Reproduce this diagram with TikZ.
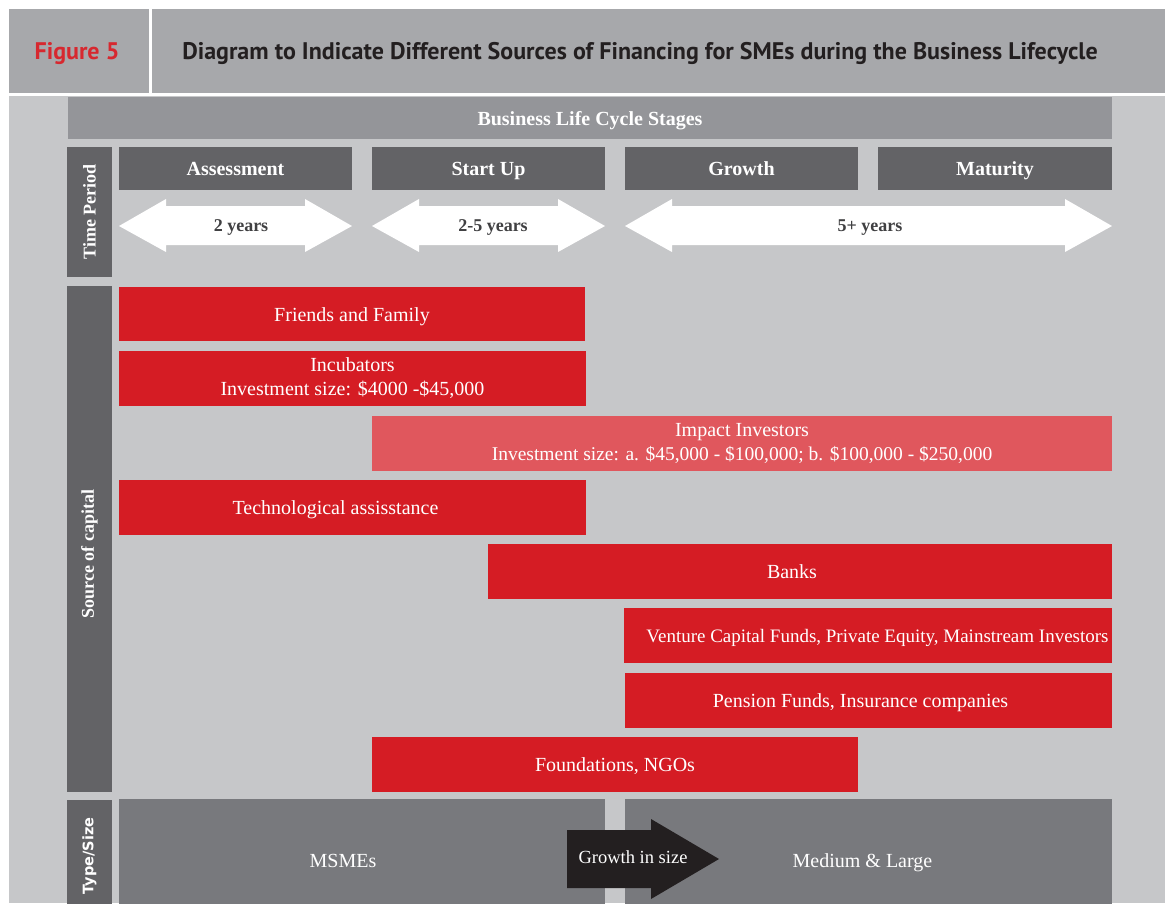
\documentclass[tikz,border=0pt]{standalone}
\usepackage{fontspec}
\setmainfont{Liberation Serif}
\newfontfamily\titlefont{PT Sans}
\newfontfamily\typefont{DejaVu Sans}
\usetikzlibrary{positioning}
\definecolor{hdrgray}{HTML}{A7A8AB}
\definecolor{lightgray}{HTML}{C6C7C9}
\definecolor{bargray}{HTML}{949599}
\definecolor{darkgray}{HTML}{636366}
\definecolor{midgray}{HTML}{78797D}
\definecolor{figred}{HTML}{D7282F}
\definecolor{barred}{HTML}{D51C24}
\definecolor{softred}{HTML}{E0575D}
\definecolor{titleink}{HTML}{231F20}
\definecolor{arrowink}{HTML}{404042}
\newcommand\boxstrut{\rule[-5pt]{0pt}{24pt}}
\newcommand\topstrut{\rule{0pt}{32pt}}
\newcommand\botstrut{\rule[-3pt]{0pt}{0pt}}
\tikzset{
  boxbase/.style={anchor=north west, inner sep=0pt, outer sep=0pt, align=center, text=white},
  oneline/.style={execute at begin node=\boxstrut},
  twoline/.style={execute at begin node=\topstrut, execute at end node=\botstrut},
  redbar/.style={boxbase, fill=barred, font=\fontsize{20}{24}\selectfont},
  softbar/.style={boxbase, fill=softred, font=\fontsize{20}{24}\selectfont},
  stagebox/.style={boxbase, oneline, fill=darkgray, font=\bfseries\fontsize{20}{24}\selectfont},
  sidelbl/.style={anchor=north west, inner sep=0pt, outer sep=0pt, fill=darkgray, minimum width=45pt},
  sidetext/.style={rotate=90, text=white, font=\bfseries\fontsize{18}{22}\selectfont, inner sep=0pt},
  sizebox/.style={boxbase, oneline, fill=midgray, font=\fontsize{20}{24}\selectfont},
  yearslbl/.style={text=arrowink, font=\bfseries\fontsize{18}{22}\selectfont, inner sep=0pt,
    execute at begin node=\strut},
}
\newcommand\twoheaded[2]{%
  \fill[white] (#1,226) -- (#1+47,199) -- (#1+47,206) -- (#2-47,206) -- (#2-47,199) -- (#2,226)
    -- (#2-47,252) -- (#2-47,245) -- (#1+47,245) -- (#1+47,252) -- cycle;}
\begin{document}
\begin{tikzpicture}[x=1pt,y=-1pt]
\useasboundingbox (0,0) rectangle (1165,903);
\fill[white] (0,0) rectangle (1165,903);
% header
\fill[hdrgray] (9,9) rectangle (1165,93);
\fill[white] (149,9) rectangle (152,93);
\fill[lightgray] (9,96) rectangle (1165,903);
\node[text=figred, font=\titlefont\bfseries\fontsize{24}{28}\selectfont, inner sep=0pt, anchor=base] (fig) at (77,59) {Figure 5};
\node[text=titleink, font=\titlefont\bfseries\fontsize{24}{28}\selectfont, inner sep=0pt, anchor=base] (title) at (640,59) {Diagram to Indicate Different Sources of Financing for SMEs during the Business Lifecycle};
% stages bar
\node[boxbase, oneline, fill=bargray, minimum width=1044pt, minimum height=42pt, font=\bfseries\fontsize{20}{24}\selectfont] (stages) at (68,97) {Business Life Cycle Stages};
% side labels
\node[sidelbl, minimum height=130pt] (timelbl) at (67,147) {};
\node[sidetext] (timetxt) at (89.5,212) {Time Period};
\node[sidelbl, minimum height=506pt] (srclbl) at (67,286) {};
\node[sidetext] (srctxt) at (89.5,554) {Source of capital};
\node[sidelbl, minimum height=122pt] (typelbl) at (67,800) {};
\node[sidetext, font=\typefont\bfseries\fontsize{14.5}{18}\selectfont] (typetxt) at (89.5,856) {Type/Size};
% stage boxes
\node[stagebox, minimum width=233pt, minimum height=43pt] (assess) at (119,147) {Assessment};
\node[stagebox, minimum width=233pt, minimum height=43pt] (startup) at (372,147) {Start Up};
\node[stagebox, minimum width=233pt, minimum height=43pt] (growth) at (625,147) {Growth};
\node[stagebox, minimum width=234pt, minimum height=43pt] (maturity) at (878,147) {Maturity};
% time arrows
\twoheaded{119}{352}
\twoheaded{372}{605}
\twoheaded{625}{1112}
\node[yearslbl] (y2) at (241,227) {2 years};
\node[yearslbl] (y25) at (493,227) {2-5 years};
\node[yearslbl] (y5) at (870,227) {5+ years};
% sources
\node[redbar, oneline, minimum width=466pt, minimum height=54pt] (ff) at (119,287) {Friends and Family};
\node[redbar, twoline, minimum width=467pt, minimum height=55pt] (inc) at (119,351) {Incubators\\Investment size: \$4000 -\$45,000};
\node[softbar, twoline, minimum width=740pt, minimum height=55pt] (imp) at (372,416) {Impact Investors\\\fontsize{19.5}{24}\selectfont Investment size: a. \$45,000 - \$100,000; b. \$100,000 - \$250,000};
\node[redbar, oneline, minimum width=467pt, minimum height=55pt] (tech) at (119,480) {\hspace*{-34pt}Technological assisstance};
\node[redbar, oneline, minimum width=624pt, minimum height=55pt] (banks) at (488,544) {\hspace*{-16pt}Banks};
\node[redbar, oneline, minimum width=488pt, minimum height=55pt, font=\fontsize{19}{24}\selectfont] (vc) at (624,608) {\hspace*{19pt}Venture Capital Funds, Private Equity, Mainstream Investors};
\node[redbar, oneline, minimum width=487pt, minimum height=55pt] (pen) at (625,673) {\hspace*{-16pt}Pension Funds, Insurance companies};
\node[redbar, oneline, minimum width=486pt, minimum height=55pt] (fnd) at (372,737) {Foundations, NGOs};
% type/size
\node[sizebox, minimum width=486pt, minimum height=122pt] (msme) at (119,799) {\hspace*{-38pt}MSMEs};
\node[sizebox, minimum width=487pt, minimum height=122pt] (ml) at (625,799) {\hspace*{-12pt}Medium \& Large};
\fill[titleink] (567,830) -- (651,830) -- (651,819) -- (719,859) -- (651,899) -- (651,888) -- (567,888) -- cycle;
\node[text=white, font=\fontsize{18.5}{22}\selectfont, inner sep=0pt] (gis) at (633,857) {Growth in size};
\end{tikzpicture}
\end{document}
